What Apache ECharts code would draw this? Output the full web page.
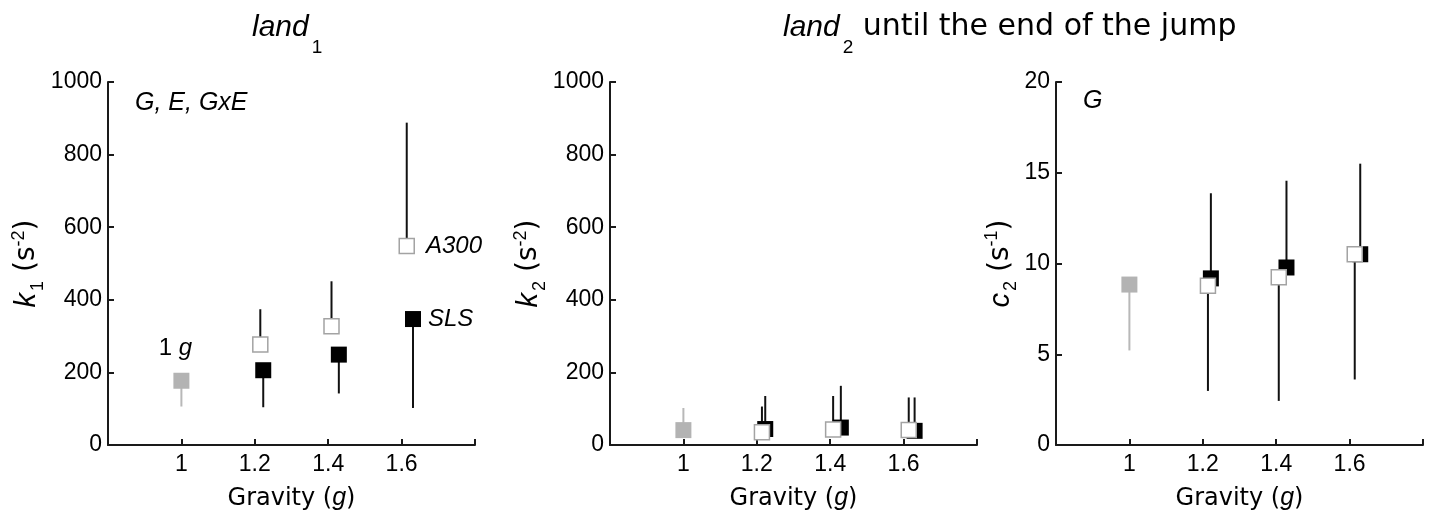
<!DOCTYPE html>
<html><head><meta charset="utf-8">
<script src="https://cdn.jsdelivr.net/npm/echarts@6/dist/echarts.min.js"></script>
<style>html,body{margin:0;padding:0;background:#fff}#c{width:1434px;height:516px}</style>
</head><body><div id="c"></div>
<script>
// ---- data: [gravity (dodged), mean, error-bar end] ----
const xTickLabels = ['1', '1.2', '1.4', '1.6'];
const k1Gray   = [[1.000, 177, 106]];
const k1Open   = [[1.215, 277, 374], [1.409, 327, 451], [1.614, 548, 888]];
const k1Filled = [[1.223, 206, 104], [1.429, 249, 142], [1.631, 347, 102]];
const k2Gray   = [[1.000, 41, 102]];
const k2Open   = [[1.214, 35, 106], [1.408, 43, 135], [1.614, 41, 131]];
const k2Filled = [[1.223, 44, 135], [1.429, 48, 163], [1.630, 39, 131]];
const c2Gray   = [[1.000, 8.84, 5.21]];
const c2Open   = [[1.214, 8.78, 2.98], [1.407, 9.24, 2.43], [1.614, 10.51, 3.61]];
const c2Filled = [[1.222, 9.18, 13.87], [1.428, 9.78, 14.56], [1.629, 10.51, 15.5]];
const yTicks1 = {min: 0, max: 1000, interval: 200};
const yTicks3 = {min: 0, max: 20, interval: 5};

const SANS = 'Liberation Sans';
const LG = 'DejaVu Sans';
const AXC = '#1a1a1a';

const grids = [
  {left: 108, top: 82, width: 367, height: 367},
  {left: 610, top: 82, width: 367, height: 367},
  {left: 1056, top: 82, width: 367, height: 367}
];

const nameRich = {
  i: {fontFamily: SANS, fontStyle: 'italic', fontSize: 29, lineHeight: 34, color: '#000'},
  t: {fontFamily: LG, fontSize: 28, lineHeight: 34, color: '#000'},
  sub: {fontFamily: SANS, fontSize: 18, lineHeight: 34, padding: [22, 0, 0, 2], color: '#000'},
  sup: {fontFamily: SANS, fontSize: 18, lineHeight: 34, padding: [0, 0, 16, 0], color: '#000'}
};

function xAxisCfg(i) {
  return {
    type: 'value', gridIndex: i, min: 0.8, max: 1.8, interval: 0.2,
    axisLine: {lineStyle: {color: AXC, width: 2}},
    axisTick: {inside: true, length: 6, lineStyle: {color: AXC, width: 2}},
    splitLine: {show: false},
    axisLabel: {
      fontFamily: SANS, fontSize: 23, color: '#000', margin: 8,
      formatter: function (v) {
        const s = (Math.round(v * 10) / 10).toString();
        return xTickLabels.indexOf(s) >= 0 ? s : '';
      }
    },
    name: '{t|Gravity (}{i|g}{t|)}', nameLocation: 'middle', nameGap: 41,
    nameTextStyle: {rich: {
      t: {fontFamily: LG, fontSize: 24, color: '#000'},
      i: {fontFamily: SANS, fontStyle: 'italic', fontSize: 25, color: '#000'}
    }}
  };
}
function yAxisCfg(i, ticks, name, gap) {
  return {
    type: 'value', gridIndex: i, min: ticks.min, max: ticks.max, interval: ticks.interval,
    axisLine: {show: true, lineStyle: {color: AXC, width: 2}},
    axisTick: {show: true, inside: true, length: 6, lineStyle: {color: AXC, width: 2}},
    splitLine: {show: false},
    axisLabel: {fontFamily: SANS, fontSize: 23, color: '#000', margin: 6,
      formatter: function (v) { return String(v); }},
    name: name, nameLocation: 'middle', nameRotate: 90, nameGap: gap,
    nameTextStyle: {rich: nameRich}
  };
}

function errSeries(data, gi, color) {
  return {
    type: 'custom', xAxisIndex: gi, yAxisIndex: gi, z: 1, silent: true,
    encode: {x: 0, y: [1, 2]},
    data: data,
    renderItem: function (params, api) {
      const p1 = api.coord([api.value(0), api.value(1)]);
      const p2 = api.coord([api.value(0), api.value(2)]);
      return {type: 'line', shape: {x1: p1[0], y1: p1[1], x2: p2[0], y2: p2[1]},
              style: {stroke: color, lineWidth: 2}};
    }
  };
}
function ptSeries(data, gi, kind, labels) {
  const style = kind === 'open' ? {color: '#fff', borderColor: '#a3a3a3', borderWidth: 1.5, opacity: 1}
              : kind === 'gray' ? {color: '#b3b3b3', opacity: 1} : {color: '#000', opacity: 1};
  return {
    type: 'scatter', xAxisIndex: gi, yAxisIndex: gi, symbol: 'rect',
    symbolSize: kind === 'open' ? 15 : 16, z: kind === 'open' ? 3 : 2, silent: true,
    itemStyle: style,
    data: data.map(function (d, j) {
      const item = {value: [d[0], d[1]]};
      if (labels && labels[j]) item.label = labels[j];
      return item;
    })
  };
}
const lblItalic = {fontFamily: SANS, fontStyle: 'italic', fontSize: 24, color: '#000'};

const option = {
  animation: false,
  backgroundColor: '#fff',
  grid: grids,
  xAxis: [xAxisCfg(0), xAxisCfg(1), xAxisCfg(2)],
  yAxis: [
    yAxisCfg(0, yTicks1, '{i|k}{sub|1}{t| (s}{sup|-2}{t|)}', 54),
    yAxisCfg(1, yTicks1, '{i|k}{sub|2}{t| (s}{sup|-2}{t|)}', 55),
    yAxisCfg(2, yTicks3, '{i|c}{sub|2}{t| (s}{sup|-1}{t|)}', 36)
  ],
  series: [
    errSeries(k1Gray, 0, '#b8b8b8'), errSeries(k1Filled, 0, '#111'), errSeries(k1Open, 0, '#111'),
    ptSeries(k1Gray, 0, 'gray', [{show: true, position: 'top', distance: 12, offset: [-6, 0],
      formatter: '{n|1 }{i|g}', rich: {n: {fontFamily: SANS, fontSize: 24, color: '#000'}, i: lblItalic}}]),
    ptSeries(k1Filled, 0, 'filled', [null, null, {show: true, position: 'right', distance: 7,
      formatter: 'SLS', ...lblItalic}]),
    ptSeries(k1Open, 0, 'open', [null, null, {show: true, position: 'right', distance: 11,
      formatter: 'A300', ...lblItalic}]),

    errSeries(k2Gray, 1, '#b8b8b8'), errSeries(k2Filled, 1, '#111'), errSeries(k2Open, 1, '#111'),
    ptSeries(k2Gray, 1, 'gray'), ptSeries(k2Filled, 1, 'filled'), ptSeries(k2Open, 1, 'open'),

    errSeries(c2Gray, 2, '#b8b8b8'), errSeries(c2Filled, 2, '#111'), errSeries(c2Open, 2, '#111'),
    ptSeries(c2Gray, 2, 'gray'), ptSeries(c2Filled, 2, 'filled'), ptSeries(c2Open, 2, 'open')
  ],
  graphic: [
    {type: 'text', left: 252, top: -2, style: {
      text: '{i|land}{s|1}',
      rich: {i: {fontFamily: SANS, fontStyle: 'italic', fontSize: 30, lineHeight: 34, fill: '#000'},
             s: {fontFamily: SANS, fontSize: 19, lineHeight: 34, padding: [40, 0, 0, 3], fill: '#000'}}
    }},
    {type: 'text', left: 783, top: -2, style: {
      text: '{i|land}{s|2}{t| until the end of the jump}',
      rich: {i: {fontFamily: SANS, fontStyle: 'italic', fontSize: 30, lineHeight: 34, fill: '#000'},
             s: {fontFamily: SANS, fontSize: 19, lineHeight: 34, padding: [40, 0, 0, 3], fill: '#000'},
             t: {fontFamily: LG, fontSize: 30, lineHeight: 34, fill: '#000'}}
    }},
    {type: 'text', left: 135, top: 91, style: {
      text: 'G, E, GxE', font: 'italic 25px "Liberation Sans"', fill: '#000'}},
    {type: 'text', left: 1083, top: 89, style: {
      text: 'G', font: 'italic 25px "Liberation Sans"', fill: '#000'}}
  ]
};
const chart = echarts.init(document.getElementById('c'));
chart.setOption(option);
</script></body></html>
